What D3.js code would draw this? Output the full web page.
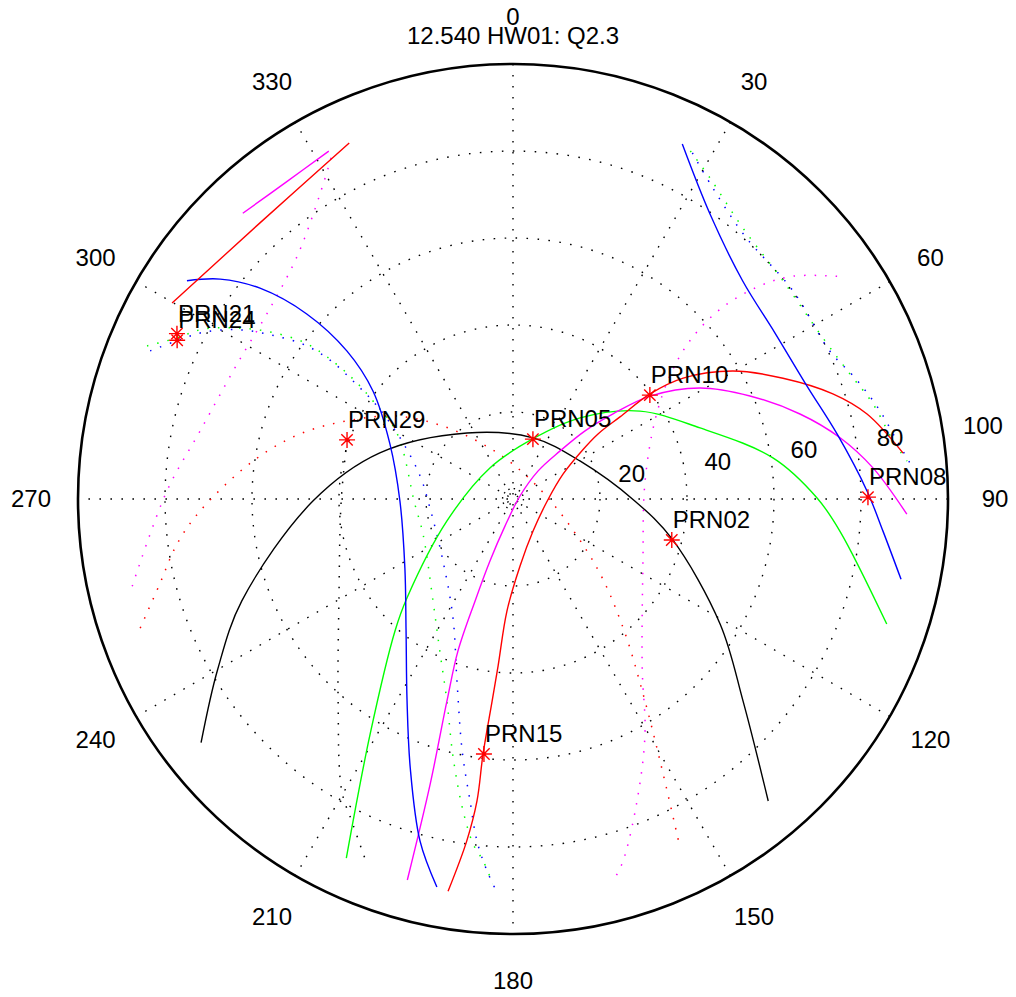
<!DOCTYPE html>
<html>
<head>
<meta charset="utf-8">
<script src="https://cdn.jsdelivr.net/npm/d3@7"></script>
<style>
body { margin: 0; background: #fff; }
text { font-family: "Liberation Sans", Arial, Helvetica, sans-serif; fill: #000; }
</style>
</head>
<body>
<script>
const width = 1016;
const height = 997;
const cx = 513, cy = 499;

const title = "12.540 HW01: Q2.3";
const azTicks = [0, 30, 60, 90, 120, 150, 180, 210, 240, 270, 300, 330];
const ringTicks = [20, 40, 60, 80];
const ringLabels = [20, 40, 60, 80, 100];
const innerRing = 2.4;

// satellite tracks, [azimuth deg, zenith distance]
const blackTrack = [[232,91],[240,78.4],[249.4,66.6],[269.4,46],[289.1,32.4],[325.1,18.5],[18.2,14.8],[60.4,17.7],[90.9,28],[104.1,37.7],[121.1,55.6],[131.3,70.4],[139.8,90.9]];
const greenTrack = [[204.9,91],[211.3,63.2],[221.8,40.7],[227,33.3],[251.6,16],[323.4,8.9],[18.4,14.6],[39.6,24.2],[55.3,35.5],[69.2,46],[81,60.5],[89.8,69.9],[95.6,75.5],[108.5,90.6]];
const magentaTrack = [[195.5,90.9],[196.2,68.2],[198.1,48.9],[199.9,37.2],[200.4,25],[200.4,15.2],[196.5,6.5],[66.8,1.75],[41.8,8.6],[44.4,15.4],[46.6,22.8],[49.6,30.2],[53.1,39.4],[59.3,50],[66.5,59.4],[73.5,68.8],[79.4,76.5],[85.1,83.1],[92.2,90.6]];
const redTrack = [[189.4,91.4],[187.7,79.3],[186.8,69.9],[186.7,59],[185.9,46.7],[185.1,38.5],[183.1,25.8],[174,15.5],[148,8.7],[91.6,8],[63.4,12.9],[55.5,18.7],[52.6,24.6],[52.5,31],[52.5,39.7],[54.6,48],[59.8,58.5],[65.9,68],[71.8,77.4],[76.5,83.7],[83.3,90.3]];
const blueTrack = [[303.8,90.2],[306.9,84.2],[309.8,75.7],[311.9,63.7],[311.7,51.1],[307.6,40.6],[294.1,31],[269,26],[237.4,29.5],[219.2,38.9],[207.7,52.4],[200.9,66.2],[195.2,81.5],[191.1,90.9]];
const blueTrack2 = [[25.5,90.4],[34.7,79.6],[46.5,72.8],[57.6,71.3],[69,72.4],[78.7,76],[88.7,81.4],[95,85.4],[101.7,91.1]];
const redTrack2 = [[299.9,90.4],[317.5,86.1],[335.3,90.1]];
const magentaTrack2 = [[316.6,90.4],[324.4,89.6],[332.1,90.5]];

// earlier passes, dotted
const magentaDots = [[257.1,89.8],[271.3,79.6],[282.3,73.6],[296.1,70.6],[306.9,70.8],[318.4,74.7],[327.7,83],[332.7,90.1]];
const magentaDots2 = [[55.5,90.4],[51.5,82.3],[49.2,75],[47.5,64.6],[48.2,54.5],[51.9,45.8],[61.2,37.2],[83.5,30.5],[115.5,33.1],[142.6,48.9],[150.7,62],[157.7,75.1],[163.1,87],[165.3,90.8]];
const redDots = [[250.9,90.7],[256.5,83.5],[262.4,77.9],[267.8,72],[278.3,60.4],[287,51.2],[295.2,42.2],[305.1,33.2],[314.6,24.5],[328.2,15.7],[0,8],[97.1,9.3],[129.4,25],[139.5,39],[146.3,53.9],[150.7,69.1],[154.4,88.9]];
const greenDots = [[292.7,91.2],[295.6,85.7],[298.7,81.3],[301.8,74.6],[304.5,67.8],[306.8,60.3],[307.4,53.8],[306.9,46],[305,39.3],[299.6,30.7],[267.1,22.6],[248.7,22.2],[218.1,29.8],[205.7,38.8],[198.1,48.9],[193,61.1],[189.1,72.6],[186.6,79.8],[184.7,83.5],[183,88.6]];
const blueDots = [[292.2,90.1],[295.2,85.4],[298.5,80.5],[301.8,73.8],[304.2,67],[306.5,59.5],[307.2,52.8],[306.3,45.1],[304.4,37.9],[298.4,29.5],[283.9,22],[263.8,19.2],[228.5,21.5],[206.8,30.6],[197.1,43.8],[191.4,59.1],[188.1,70.1],[186,79.1],[184,85.7],[182.2,90.9]];
const greenDots2 = [[27,89.8],[31.5,86.6],[40.3,81.7],[51.1,79.8],[62.6,80.3],[69.6,82.6],[75.2,85.6],[81.3,88.4],[84.5,91]];
const blueDots2 = [[27.4,89.6],[32.7,85],[41.4,80.6],[53.4,80.2],[65,80.4],[70.5,83.4],[76,86.5],[81.4,89.3],[84.8,91.6]];
const blackDots = [[289.6,40.5],[269.3,39.5],[239.6,46.4],[220.9,61.4],[210.4,77.8],[206.6,82.8],[201.8,90.4]];

// current satellite positions
const satNames = ["PRN05", "PRN10", "PRN02", "PRN08", "PRN15", "PRN29", "PRN21", "PRN24"];
const satAz = [18.4, 52.8, 104.5, 89.7, 186.5, 289.6, 296.2, 295.3];
const satR = [14.5, 39.5, 37.7, 81.6, 59.0, 40.5, 86.1, 85.4];

const r = d3.scaleLinear().domain([0, 100]).range([0, 435]);
const rad = (d) => d * Math.PI / 180;
const pos = (az, z) => [r(z) * Math.sin(rad(az)), -r(z) * Math.cos(rad(az))];

const svg = d3.select("body")
	.append("svg")
	.attr("width", width)
	.attr("height", height);

const g = svg.append("g")
	.attr("transform", "translate(" + cx + "," + cy + ")");

// grid rings and spokes
g.selectAll(".ring")
	.data(ringTicks.concat([innerRing]))
	.enter().append("circle")
	.attr("r", (d) => r(d))
	.attr("fill", "none")
	.attr("stroke", "#000")
	.attr("stroke-width", 1.4)
	.attr("stroke-dasharray", (d) => d < 5 ? "1.5,4" : "1.6,9.4");

g.selectAll(".spoke")
	.data(azTicks.slice(0, 6))
	.enter().append("line")
	.attr("x1", (d) => pos(d, 100)[0])
	.attr("y1", (d) => pos(d, 100)[1])
	.attr("x2", (d) => pos(d + 180, 100)[0])
	.attr("y2", (d) => pos(d + 180, 100)[1])
	.attr("stroke", "#000")
	.attr("stroke-width", 1.4)
	.attr("stroke-dasharray", "1.6,9.4");

g.append("circle")
	.attr("r", r(100))
	.attr("fill", "none")
	.attr("stroke", "#000")
	.attr("stroke-width", 2.6);

// tracks
const line = d3.lineRadial()
	.angle((d) => rad(d[0]))
	.radius((d) => r(d[1]))
	.curve(d3.curveCatmullRom);

const dotted = [
	[magentaDots, "#ff00ff"], [magentaDots2, "#ff00ff"], [redDots, "#ff0000"],
	[greenDots, "#00ff00"], [blueDots, "#0000ff"], [greenDots2, "#00ff00"], [blueDots2, "#0000ff"],
	[blackDots, "#000000"]
];
g.selectAll(".dots")
	.data(dotted)
	.enter().append("path")
	.attr("d", (d) => line(d[0]))
	.attr("fill", "none")
	.attr("stroke", (d) => d[1])
	.attr("stroke-width", 1.5)
	.attr("stroke-dasharray", "1.5,9");

const solid = [
	[blackTrack, "#000000"], [greenTrack, "#00ff00"], [magentaTrack, "#ff00ff"], [redTrack, "#ff0000"],
	[blueTrack, "#0000ff"], [blueTrack2, "#0000ff"], [redTrack2, "#ff0000"], [magentaTrack2, "#ff00ff"]
];
g.selectAll(".track")
	.data(solid)
	.enter().append("path")
	.attr("d", (d) => line(d[0]))
	.attr("fill", "none")
	.attr("stroke", (d) => d[1])
	.attr("stroke-width", 1.4);

// satellites
const sats = satNames.map((n, i) => ({name: n, p: pos(satAz[i], satR[i])}));
const star = "M-8,0H8M0,-8V8M-5.7,-5.7L5.7,5.7M-5.7,5.7L5.7,-5.7";
g.selectAll(".sat")
	.data(sats)
	.enter().append("path")
	.attr("d", star)
	.attr("transform", (d) => "translate(" + d.p + ")")
	.attr("stroke", "#ff0000")
	.attr("stroke-width", 1.4);

g.selectAll(".satlabel")
	.data(sats)
	.enter().append("text")
	.attr("x", (d) => d.p[0] + 1)
	.attr("y", (d) => d.p[1] - 12)
	.attr("font-size", 24)
	.text((d) => d.name);

// labels
g.selectAll(".azlabel")
	.data(azTicks)
	.enter().append("text")
	.attr("x", (d) => 482 * Math.sin(rad(d)))
	.attr("y", (d) => -482 * Math.cos(rad(d)))
	.attr("text-anchor", "middle")
	.attr("dy", "0.35em")
	.attr("font-size", 24)
	.text((d) => d);

g.selectAll(".rlabel")
	.data(ringLabels)
	.enter().append("text")
	.attr("x", (d) => (r(d + 1) + 15) * Math.sin(rad(82)))
	.attr("y", (d) => -(r(d + 1) + 14) * Math.cos(rad(82)) - 2)
	.attr("font-size", 24)
	.text((d) => d);

svg.append("text")
	.attr("x", cx)
	.attr("y", 44)
	.attr("text-anchor", "middle")
	.attr("font-size", 24)
	.text(title);
</script>
</body>
</html>
